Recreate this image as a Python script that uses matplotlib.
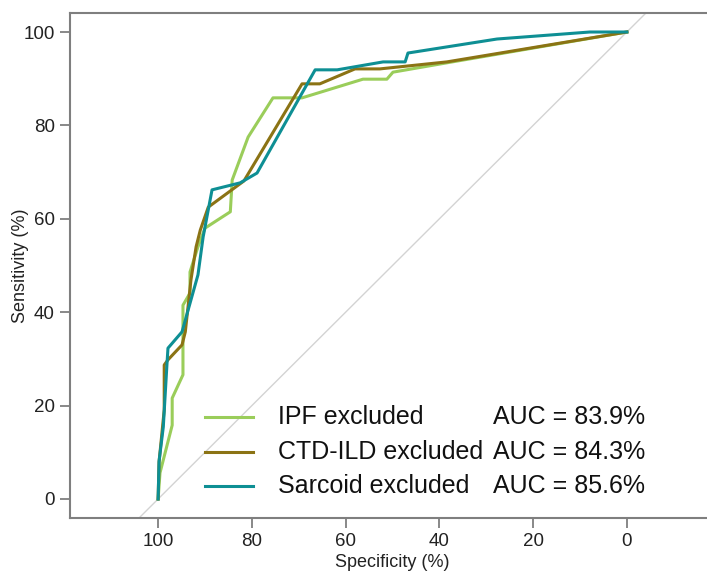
import numpy as np
import matplotlib.pyplot as plt

plt.rcParams['font.family'] = ['Liberation Sans', 'DejaVu Sans']

# ROC curve vertices, specificity (%) and sensitivity (%)
ipf_spec = [100, 99.6, 97.0, 97.0, 94.7, 94.7, 93.2, 93.2, 91.5, 90.0, 84.6, 84.2,
            80.8, 75.5, 69.3, 56.3, 51.2, 49.9, 38.4, 0]
ipf_sens = [0, 5.6, 15.8, 21.6, 26.6, 41.5, 44.1, 48.6, 54.0, 58.0, 61.5, 68.3,
            77.5, 85.9, 85.9, 89.9, 89.9, 91.4, 93.4, 100]

ctd_spec = [100, 99.8, 98.7, 98.7, 97.9, 94.9, 94.2, 93.0, 91.9, 91.0, 89.3, 81.7,
            69.3, 65.5, 58.0, 52.7, 38.4, 0]
ctd_sens = [0, 7.9, 19.1, 28.7, 29.8, 33.0, 35.8, 46.9, 54.0, 57.6, 62.5, 68.1,
            88.9, 88.9, 92.1, 92.1, 93.6, 100]

sarc_spec = [100, 99.8, 98.9, 98.1, 97.9, 94.9, 91.5, 90.4, 88.5, 82.5, 78.9, 66.5,
             61.8, 52.0, 47.3, 46.7, 27.7, 7.9, 0]
sarc_sens = [0, 8.1, 15.4, 29.1, 32.3, 35.8, 48.0, 56.1, 66.2, 67.7, 69.8, 91.9,
             91.9, 93.6, 93.6, 95.5, 98.5, 100, 100]

labels = ['IPF excluded', 'CTD-ILD excluded', 'Sarcoid excluded']
auc = [83.9, 84.3, 85.6]
colors = ['#9ACD5A', '#8B7314', '#0E8F94']

fig = plt.figure(figsize=(7.07, 5.74), dpi=100)
ax = fig.add_axes([70/707, 56/574, 645/707, 505/574])

ax.axline((100, 0), (0, 100), color='#D3D3D3', lw=1, zorder=1)

curves = [(ipf_spec, ipf_sens), (ctd_spec, ctd_sens), (sarc_spec, sarc_sens)]
for (sp, se), c in zip(curves, colors):
    ax.plot(sp, se, color=c, lw=2.2, zorder=3)

ax.set_xlim(118.8, -18.8)
ax.set_ylim(-4.07, 104.07)
ax.set_xticks(np.arange(100, -1, -20))
ax.set_yticks(np.arange(0, 101, 20))

ax.spines['right'].set_visible(False)
for s in ['left', 'bottom', 'top']:
    ax.spines[s].set_color('#7F7F7F')
    ax.spines[s].set_linewidth(1.5)
ax.tick_params(length=7, width=1.3, color='#7F7F7F', labelsize=13.5,
               labelcolor='#222222', pad=4)

ax.set_xlabel('Specificity (%)', fontsize=13, color='#222222', labelpad=3)
ax.set_ylabel('Sensitivity (%)', fontsize=13, color='#222222')
ax.yaxis.set_label_coords(-0.064, 0.5)

# legend drawn by hand so the AUC values line up in a column
rows = [0.200, 0.1307, 0.0634]
for y, lab, a, c in zip(rows, labels, auc, colors):
    ax.plot([0.209, 0.284], [y, y], color=c, lw=2.2, transform=ax.transAxes)
    ax.text(0.3225, y, lab, transform=ax.transAxes, fontsize=18,
            va='center', ha='left', color='#111111')
    ax.text(0.656, y, 'AUC = %.1f%%' % a, transform=ax.transAxes, fontsize=18,
            va='center', ha='left', color='#111111')

fig.savefig('out.png', dpi=100)
